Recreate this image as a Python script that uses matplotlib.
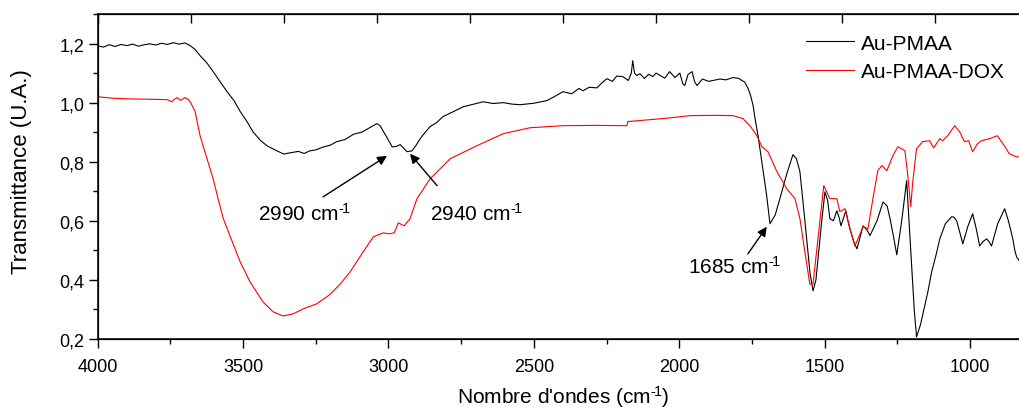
import matplotlib
matplotlib.use("Agg")
import matplotlib.pyplot as plt
from matplotlib.ticker import MultipleLocator, FuncFormatter

plt.rcParams["font.family"] = ["Liberation Sans", "DejaVu Sans"]
plt.rcParams["mathtext.fontset"] = "custom"
plt.rcParams["mathtext.rm"] = "Liberation Sans"
plt.rcParams["mathtext.it"] = "Liberation Sans"

# Au-PMAA (black)
wn_pmaa = [4000, 3980, 3960, 3940, 3920, 3900, 3880, 3860, 3840, 3820, 3800, 3780,
           3760, 3740, 3720, 3700, 3682, 3665, 3648, 3625, 3603, 3580, 3555, 3530,
           3510, 3488, 3465, 3440, 3418, 3400, 3384, 3360, 3339, 3310, 3290, 3270,
           3250, 3224, 3200, 3178, 3150, 3120, 3090, 3060, 3040, 3029, 3010, 2987,
           2972, 2960, 2948, 2936, 2919, 2905, 2891, 2875, 2857, 2835, 2812, 2780,
           2743, 2710, 2674, 2640, 2605, 2575, 2547, 2500, 2455, 2430, 2400, 2370,
           2345, 2331, 2310, 2283, 2265, 2249, 2230, 2215, 2194, 2175, 2165, 2160,
           2154, 2146, 2135, 2120, 2105, 2091, 2080, 2066, 2050, 2033, 2015, 1998,
           1988, 1981, 1970, 1956, 1947, 1939, 1920, 1900, 1884, 1860, 1840, 1815,
           1795, 1785, 1775, 1763, 1755, 1746, 1740, 1729, 1716, 1700, 1688, 1670,
           1654, 1630, 1609, 1597, 1585, 1572, 1561, 1550, 1540, 1530, 1523, 1510,
           1499, 1490, 1482, 1470, 1458, 1450, 1444, 1435, 1427, 1420, 1413, 1400,
           1389, 1378, 1368, 1355, 1344, 1320, 1299, 1285, 1275, 1262, 1252, 1235,
           1218, 1210, 1201, 1192, 1184, 1170, 1156, 1145, 1132, 1118, 1104, 1085,
           1063, 1055, 1046, 1035, 1025, 1008, 991, 978, 967, 955, 943, 935, 926,
           905, 881, 868, 853, 846, 840, 820, 800]
tr_pmaa = [1.192, 1.188, 1.196, 1.190, 1.197, 1.193, 1.198, 1.191, 1.196, 1.199, 1.195, 1.201,
           1.197, 1.203, 1.198, 1.202, 1.193, 1.180, 1.159, 1.135, 1.105, 1.072, 1.037, 1.005,
           0.970, 0.938, 0.900, 0.872, 0.854, 0.845, 0.837, 0.826, 0.830, 0.835, 0.828, 0.837,
           0.840, 0.850, 0.856, 0.868, 0.875, 0.893, 0.901, 0.918, 0.929, 0.922, 0.890, 0.850,
           0.852, 0.858, 0.846, 0.834, 0.837, 0.856, 0.878, 0.898, 0.919, 0.932, 0.953, 0.968,
           0.986, 0.994, 1.003, 0.997, 1.000, 0.995, 0.993, 0.998, 1.007, 1.020, 1.037, 1.030,
           1.048, 1.040, 1.052, 1.050, 1.068, 1.081, 1.072, 1.090, 1.088, 1.075, 1.100, 1.142,
           1.100, 1.092, 1.098, 1.082, 1.096, 1.088, 1.100, 1.092, 1.083, 1.105, 1.085, 1.100,
           1.064, 1.058, 1.095, 1.105, 1.070, 1.058, 1.080, 1.072, 1.075, 1.080, 1.077, 1.085,
           1.082, 1.075, 1.070, 1.047, 1.025, 0.990, 0.950, 0.888, 0.800, 0.690, 0.590, 0.620,
           0.675, 0.760, 0.824, 0.810, 0.766, 0.640, 0.529, 0.420, 0.363, 0.400, 0.471, 0.600,
           0.698, 0.670, 0.607, 0.600, 0.634, 0.610, 0.583, 0.610, 0.634, 0.600, 0.573, 0.530,
           0.505, 0.545, 0.583, 0.570, 0.550, 0.600, 0.664, 0.650, 0.607, 0.540, 0.485, 0.600,
           0.736, 0.600, 0.448, 0.300, 0.207, 0.250, 0.312, 0.360, 0.427, 0.480, 0.539, 0.590,
           0.614, 0.612, 0.600, 0.560, 0.522, 0.580, 0.624, 0.570, 0.515, 0.530, 0.539, 0.530,
           0.515, 0.590, 0.641, 0.600, 0.539, 0.500, 0.478, 0.450, 0.380]

# Au-PMAA-DOX (red)
wn_dox = [4000, 3950, 3900, 3850, 3800, 3760, 3745, 3735, 3727, 3716, 3708, 3700,
          3690, 3682, 3665, 3648, 3624, 3603, 3586, 3568, 3545, 3510, 3476, 3431,
          3397, 3362, 3328, 3293, 3247, 3202, 3166, 3132, 3087, 3052, 3018, 2994,
          2980, 2966, 2946, 2926, 2902, 2857, 2788, 2696, 2605, 2513, 2399, 2290,
          2180, 2177, 2056, 1963, 1880, 1815, 1781, 1757, 1733, 1716, 1695, 1664,
          1630, 1602, 1585, 1568, 1551, 1540, 1523, 1503, 1482, 1458, 1448, 1430,
          1413, 1396, 1368, 1351, 1334, 1317, 1303, 1286, 1265, 1248, 1224, 1214,
          1204, 1197, 1184, 1163, 1139, 1125, 1104, 1094, 1075, 1053, 1036, 1019,
          1005, 991, 975, 961, 933, 906, 882, 865, 841, 800]
tr_dox = [1.020, 1.015, 1.013, 1.012, 1.011, 1.010, 1.003, 1.012, 1.017, 1.008, 1.012, 1.017,
          1.012, 1.003, 0.970, 0.888, 0.810, 0.742, 0.675, 0.607, 0.549, 0.461, 0.393, 0.325,
          0.292, 0.278, 0.285, 0.302, 0.319, 0.350, 0.386, 0.427, 0.495, 0.546, 0.559, 0.556,
          0.560, 0.593, 0.583, 0.607, 0.675, 0.742, 0.810, 0.854, 0.895, 0.915, 0.922, 0.923,
          0.922, 0.936, 0.946, 0.956, 0.957, 0.956, 0.946, 0.922, 0.888, 0.851, 0.834, 0.766,
          0.708, 0.675, 0.607, 0.495, 0.386, 0.386, 0.539, 0.719, 0.675, 0.675, 0.631, 0.641,
          0.573, 0.515, 0.580, 0.573, 0.675, 0.770, 0.787, 0.770, 0.821, 0.851, 0.837, 0.753,
          0.648, 0.732, 0.844, 0.868, 0.871, 0.847, 0.878, 0.871, 0.890, 0.922, 0.902, 0.868,
          0.871, 0.834, 0.860, 0.871, 0.878, 0.888, 0.854, 0.827, 0.817, 0.815]

# peak labels: text anchor, arrow tail, arrow head (wavenumber, transmittance)
SUP = "$^{\u2010\\!1}$"
peak_labels = ["2990 cm" + SUP, "2940 cm" + SUP, "1685 cm" + SUP]
peak_text = [(3449, 0.603), (2857, 0.603), (1970, 0.424)]
peak_tail = [(3225, 0.681), (2833, 0.719), (1764, 0.488)]
peak_head = [(3005, 0.820), (2926, 0.827), (1699, 0.580)]

fig = plt.figure(figsize=(10.2, 4.1), dpi=100)
ax = fig.add_axes([97.7 / 1020, 70 / 410, 930.5 / 1020, 325 / 410])

ax.plot(wn_pmaa, tr_pmaa, color="black", lw=0.8, label="Au-PMAA")
ax.plot(wn_dox, tr_dox, color="red", lw=0.8, label="Au-PMAA-DOX")

ax.set_xlim(4000, 800)
ax.set_ylim(0.2, 1.3)
ax.xaxis.set_major_locator(MultipleLocator(500))
ax.xaxis.set_minor_locator(MultipleLocator(250))
ax.yaxis.set_major_locator(MultipleLocator(0.2))
ax.yaxis.set_minor_locator(MultipleLocator(0.1))
ax.xaxis.set_major_formatter(FuncFormatter(lambda v, p: "%d" % v if v >= 1000 else ""))
ax.yaxis.set_major_formatter(FuncFormatter(lambda v, p: ("%.1f" % v).replace(".", ",") if v < 1.25 else ""))
ax.tick_params(which="major", direction="out", length=6.5, width=1, labelsize=13)
ax.tick_params(axis="x", which="major", pad=7)
ax.tick_params(axis="y", which="major", pad=3)
ax.tick_params(which="minor", direction="out", length=3.5, width=1)
ax.tick_params(top=False, right=False)
for s in ax.spines.values():
    s.set_linewidth(1.1)

# top and right axes of the original carry their own evenly spaced inward ticks
top = ax.twiny()
top.set_xlim(0, 10)
top.set_xticks(range(11))
top.tick_params(axis="x", direction="in", length=6.5, width=1, labeltop=False)
right = ax.twinx()
right.set_ylim(0, 6)
right.set_yticks(range(7))
right.tick_params(axis="y", direction="in", length=6.5, width=1, labelright=False)

fig.text(563 / 1020, 1 - 404 / 410, "Nombre d'ondes (cm" + SUP + ")", fontsize=15,
         ha="center", va="baseline")
fig.text(22 / 1020, 1 - 172 / 410, "Transmittance (U.A.)", fontsize=16,
         ha="center", va="center", rotation=90)

arrow = dict(arrowstyle="-|>", color="black", lw=1, mutation_scale=14,
             shrinkA=0, shrinkB=0)
for lab, txt, tail, head in zip(peak_labels, peak_text, peak_tail, peak_head):
    ax.text(txt[0], txt[1], lab, fontsize=15, ha="left", va="baseline")
    ax.annotate("", xy=head, xytext=tail, arrowprops=arrow)

ax.legend(loc="upper left", bbox_to_anchor=(787 / 1020, 1 - 16 / 410),
          bbox_transform=fig.transFigure, frameon=False, fontsize=15,
          handlelength=2.3, handletextpad=0.35, labelspacing=0.45)

fig.savefig("out.png", dpi=100)
